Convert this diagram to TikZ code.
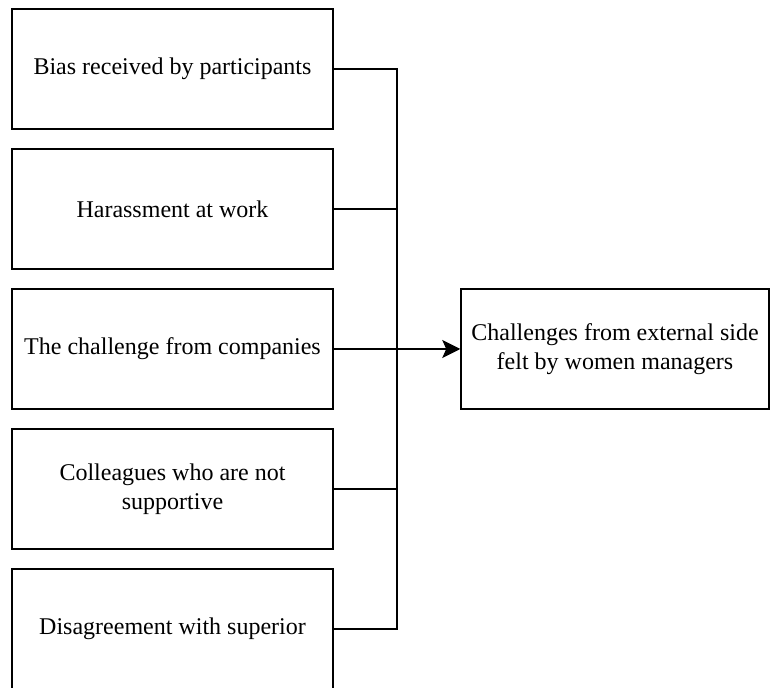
\documentclass[tikz,border=0pt]{standalone}
\usepackage{fontspec}
\setmainfont{Liberation Serif}
\usetikzlibrary{arrows.meta}
\begin{document}
\begin{tikzpicture}[x=0.5pt,y=-0.5pt,line width=0.75pt]

        \useasboundingbox (0,0) rectangle (770,688);

        \begin{scope}[every node/.style={rectangle, draw, align=center, inner sep=0pt,
            minimum width=160.5pt, minimum height=60pt,
            font=\fontsize{12}{11.5}\selectfont}]
          \node (1) at (172.5,69) {Bias received by participants};
          \node (2) at (172.5,209) {Harassment at work};
          \node (3) at (172.5,349) {The challenge from companies};
          \node (4) at (172.5,489) {Colleagues who are not\\[3pt] supportive};
          \node (5) at (172.5,629) {Disagreement with superior};
          \node[minimum width=154pt] (6) at (615,349) {Challenges from external side\\[3pt] felt by women managers};
        \end{scope}

        \coordinate (bus) at (397,349);

        \begin{scope}[every path/.style={draw}]
          \draw (1.east) -| (bus);
          \draw (2.east) -| (bus);
          \draw (4.east) -| (bus);
          \draw (5.east) -| (bus);
          \draw[-{Stealth[length=9pt,width=9pt,inset=2pt]}] (3.east) -- (6.west);
        \end{scope}

      \end{tikzpicture}
\end{document}
